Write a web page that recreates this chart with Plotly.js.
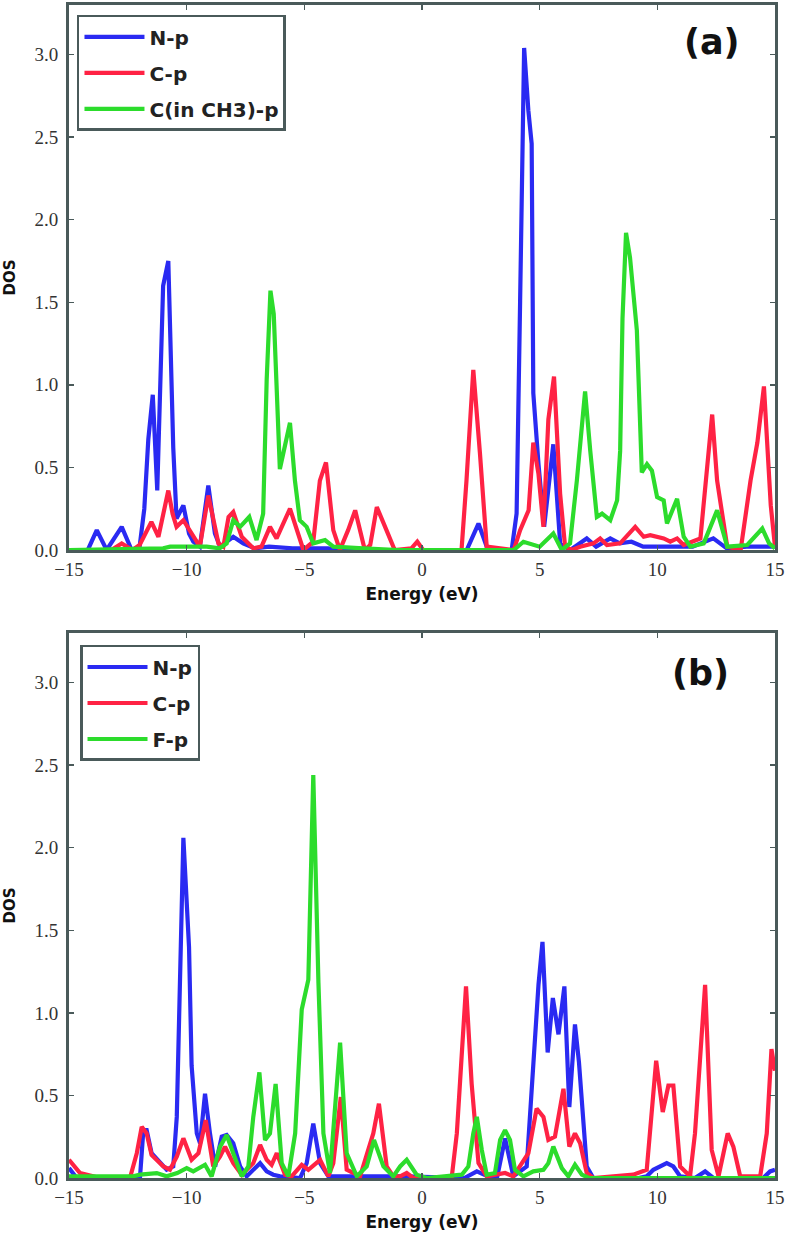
<!DOCTYPE html>
<html>
<head>
<meta charset="utf-8">
<script src="https://cdn.plot.ly/plotly-3.0.1.min.js"></script>
<style>html,body{margin:0;padding:0;background:#fff;}</style>
</head>
<body>
<div id="chart" style="width:787px;height:1240px;"></div>
<script>
// ---------- Panel (a) ----------
const energyA_N = [-15,-14.2,-13.82,-13.4,-12.76,-12.34,-12.0,-11.8,-11.63,-11.44,-11.25,-11.0,-10.78,-10.57,-10.43,-10.14,-9.9,-9.72,-9.44,-9.08,-8.8,-8.58,-8.02,-7.6,-7.1,-6.5,-5.5,-4.0,-3.5,1.9,2.4,2.8,3.81,4.02,4.17,4.34,4.52,4.66,4.73,4.95,5.19,5.58,5.87,6.3,7.0,7.4,8.0,8.4,8.9,9.4,11.5,12.38,12.95,13.8,15];
const dosA_N    = [0,0,0.12,0,0.14,0,0.02,0.25,0.67,0.94,0.36,1.6,1.75,0.62,0.19,0.27,0.1,0.05,0.02,0.39,0.1,0.02,0.08,0.04,0.01,0.02,0.01,0.01,0,0,0.16,0,0,0.22,1.51,3.04,2.66,2.46,0.95,0.52,0.14,0.64,0.04,0,0.07,0.02,0.07,0.04,0.05,0.02,0.02,0.07,0.01,0.02,0.02];

const energyA_C = [-15,-13.2,-12.76,-12.3,-12.0,-11.5,-11.2,-10.78,-10.6,-10.43,-10.14,-9.72,-9.44,-9.08,-8.65,-8.44,-8.22,-8.02,-7.66,-7.17,-6.82,-6.46,-6.18,-5.61,-5.26,-5.04,-4.62,-4.34,-4.08,-3.77,-3.49,-3.14,-2.84,-2.43,-2.2,-1.92,-1.51,-1.16,-0.45,-0.2,0.05,1.68,1.89,2.18,2.46,2.75,3.9,4.17,4.53,4.73,4.95,5.16,5.37,5.61,5.87,6.08,6.36,6.72,7.29,7.57,7.86,8.42,9.06,9.42,9.7,10.27,10.55,10.84,11.12,11.83,12.33,12.54,12.97,13.54,13.96,14.25,14.53,14.82,15];
const dosA_C    = [0,0,0.04,0,0.03,0.17,0.08,0.36,0.22,0.14,0.18,0.08,0.02,0.33,0.04,0.02,0.2,0.23,0.08,0.01,0.02,0.14,0.07,0.25,0.1,0,0.05,0.42,0.53,0.12,0,0.12,0.24,0,0.03,0.26,0.12,0,0.01,0.05,0,0,0.42,1.09,0.59,0.02,0,0.12,0.24,0.65,0.46,0.14,0.79,1.05,0.34,0.02,0,0.02,0.04,0.07,0.03,0.04,0.14,0.08,0.09,0.07,0.05,0.07,0.03,0.07,0.82,0.42,0.02,0,0.42,0.65,0.99,0.27,0.02];

const energyA_G = [-15,-11,-10.7,-10.2,-9.15,-8.6,-8.3,-8.02,-7.73,-7.34,-7.03,-6.75,-6.6,-6.44,-6.3,-6.04,-5.61,-5.4,-5.19,-4.9,-4.62,-4.12,-3.77,-2.5,-1,3.9,4.31,5.0,5.58,5.94,6.29,6.58,6.93,7.15,7.43,7.65,8.0,8.29,8.42,8.52,8.67,8.84,9.13,9.34,9.56,9.77,9.99,10.27,10.41,10.84,11.12,11.4,11.97,12.54,12.97,13.82,14.46,14.75,15];
const dosA_G    = [0,0.01,0.02,0.02,0.02,0.01,0.04,0.18,0.14,0.2,0.06,0.22,1.03,1.57,1.43,0.49,0.77,0.42,0.18,0.14,0.04,0.06,0.02,0.01,0,0,0.05,0.02,0.1,0,0.04,0.42,0.96,0.6,0.2,0.22,0.18,0.3,0.6,1.4,1.92,1.77,1.33,0.47,0.52,0.48,0.32,0.3,0.16,0.31,0.08,0.02,0.04,0.24,0.02,0.03,0.13,0.04,0.01];

// ---------- Panel (b) ----------
const energyB_N = [-15,-14.67,-12.27,-11.98,-11.84,-11.7,-11.49,-11.13,-10.85,-10.57,-10.42,-10.14,-9.9,-9.79,-9.57,-9.43,-9.22,-9.01,-8.79,-8.51,-8.3,-8.02,-7.73,-7.45,-6.88,-6.6,-6.32,-6.03,-5.18,-4.9,-4.62,-4.33,-3.98,-1.5,-0.65,1.8,2.33,2.8,3.2,3.53,3.88,4.45,4.73,4.95,5.12,5.34,5.56,5.8,6.05,6.26,6.5,6.67,7.0,7.28,9.2,9.55,9.83,10.4,10.68,10.97,11.6,12.03,12.38,14.5,14.79,15];
const dosB_N    = [0.06,0,0,0.01,0.29,0.29,0.15,0.09,0.05,0.07,0.37,2.06,1.4,0.68,0.27,0.21,0.51,0.27,0.07,0.25,0.26,0.21,0.07,0.01,0.09,0.04,0.02,0.01,0,0.09,0.33,0.09,0.01,0.01,0.01,0,0.04,0.01,0.01,0.24,0.01,0.07,0.67,1.17,1.43,0.76,1.09,0.87,1.16,0.43,0.93,0.7,0.07,0,0,0.01,0.05,0.09,0.07,0.01,0,0.04,0,0,0.04,0.05];

const energyB_C = [-15,-14.53,-13.97,-13.7,-12.41,-12.12,-11.91,-11.7,-11.49,-11.27,-10.99,-10.71,-10.42,-10.14,-9.79,-9.5,-9.19,-8.87,-8.58,-8.37,-8.02,-7.66,-7.17,-6.88,-6.6,-6.39,-6.17,-5.82,-5.54,-5.11,-4.83,-4.33,-3.98,-3.77,-3.45,-3.2,-2.63,-2.07,-1.83,-1.5,-1.22,-0.93,-0.65,-0.37,1.26,1.48,1.87,2.11,2.4,2.75,3.1,3.53,3.88,4.52,4.87,5.16,5.37,5.65,6.01,6.26,6.5,6.72,7.0,7.28,8.98,9.55,9.95,10.23,10.47,10.68,10.97,11.39,11.6,12.03,12.31,12.6,12.81,12.99,13.23,13.52,14.37,14.65,14.85,15];
const dosB_C    = [0.11,0.03,0.01,0,0,0.15,0.31,0.27,0.14,0.11,0.07,0.05,0.13,0.24,0.11,0.15,0.35,0.07,0.13,0.19,0.09,0.02,0.09,0.2,0.11,0.08,0.15,0.02,0.01,0.08,0.05,0.11,0.01,0.09,0.49,0.05,0.01,0.27,0.45,0.07,0.01,0.01,0.03,0,0,0.27,1.16,0.57,0.09,0.01,0.02,0.03,0.01,0.15,0.42,0.37,0.23,0.25,0.54,0.19,0.27,0.21,0.03,0,0.02,0.05,0.71,0.4,0.56,0.56,0.07,0.01,0.27,1.17,0.17,0.01,0.15,0.27,0.19,0.01,0.01,0.27,0.78,0.65];

const energyB_F = [-15,-12.27,-11.98,-11.27,-10.85,-10.4,-10.0,-9.72,-9.22,-8.94,-8.58,-8.3,-8.02,-7.66,-7.38,-7.17,-6.91,-6.67,-6.46,-6.22,-5.96,-5.68,-5.39,-5.11,-4.83,-4.62,-4.4,-4.19,-3.91,-3.7,-3.48,-3.2,-2.77,-2.35,-2.04,-1.64,-1.22,-0.93,-0.65,-0.23,0.2,1.69,1.97,2.18,2.33,2.54,2.75,3.1,3.32,3.53,3.74,3.95,4.31,4.73,5.16,5.37,5.58,5.94,6.22,6.5,6.79,7.1,15];
const dosB_F    = [0.01,0.01,0.02,0.03,0.01,0.03,0.06,0.04,0.08,0.01,0.19,0.26,0.15,0.01,0.07,0.37,0.64,0.23,0.27,0.57,0.09,0.01,0.27,1.02,1.2,2.44,1.18,0.27,0.03,0.39,0.82,0.15,0.01,0.07,0.23,0.07,0.01,0.07,0.11,0.02,0,0.02,0.07,0.27,0.37,0.17,0.02,0.03,0.23,0.29,0.23,0.05,0.01,0.04,0.05,0.09,0.19,0.06,0.01,0.08,0.02,0,0];

// ---------- labels ----------
const namesA = ["N-p", "C-p", "C(in CH3)-p"];
const namesB = ["N-p", "C-p", "F-p"];
const xTicks = [-15, -10, -5, 0, 5, 10, 15];
const yTicks = [0, 0.5, 1.0, 1.5, 2.0, 2.5, 3.0];

const colors = ["#2a2af2", "#ff2244", "#2cdc2c"];
const frame = "#4a5a5a";
const LW = 4.2;

function tr(x, y, name, color, xa, ya, leg, grp) {
  return {x: x, y: y, name: name, type: "scatter", mode: "lines",
    line: {color: color, width: LW}, xaxis: xa, yaxis: ya,
    legend: leg, legendgroup: grp, hoverinfo: "skip"};
}

const data = [
  tr(energyA_N, dosA_N, namesA[0], colors[0], "x", "y", "legend", "a1"),
  tr(energyA_C, dosA_C, namesA[1], colors[1], "x", "y", "legend", "a2"),
  tr(energyA_G, dosA_G, namesA[2], colors[2], "x", "y", "legend", "a3"),
  tr(energyB_N, dosB_N, namesB[0], colors[0], "x2", "y2", "legend2", "b1"),
  tr(energyB_C, dosB_C, namesB[1], colors[1], "x2", "y2", "legend2", "b2"),
  tr(energyB_F, dosB_F, namesB[2], colors[2], "x2", "y2", "legend2", "b3")
];

const tickFont = {family: "Liberation Serif, serif", size: 19, color: "#333"};
const titleFont = {family: "DejaVu Sans, sans-serif", size: 17, color: "#111", weight: "bold"};

function xax(anchor) {
  return {anchor: anchor, domain: [0, 1], range: [-15, 15], tickvals: xTicks,
    ticks: "inside", ticklen: 5, tickwidth: 1.5, tickcolor: frame,
    showline: true, linecolor: frame, linewidth: 3, mirror: "ticks",
    showgrid: false, zeroline: false, tickfont: tickFont, automargin: false,
    ticklabelstandoff: 0,
    title: {text: "Energy (eV)", font: titleFont, standoff: 10}};
}
function yax(anchor, dom) {
  return {anchor: anchor, domain: dom, range: [0, 3.3], tickvals: yTicks, tickformat: ".1f",
    ticks: "inside", ticklen: 5, tickwidth: 1.5, tickcolor: frame,
    showline: true, linecolor: frame, linewidth: 3, mirror: "ticks",
    showgrid: false, zeroline: false, tickfont: tickFont, automargin: false,
    ticklabelstandoff: 4,
    title: {text: "DOS", font: {family: "DejaVu Sans, sans-serif", size: 15, color: "#111", weight: "bold"}, standoff: 16}};
}

const legFont = {family: "DejaVu Sans, sans-serif", size: 20, color: "#222", weight: "bold"};
function leg(x, y) {
  return {x: x, y: y, xanchor: "left", yanchor: "top", bgcolor: "#fff",
    bordercolor: frame, borderwidth: 2.5, font: legFont, tracegroupgap: 7,
    itemwidth: 60};
}

const layout = {
  width: 787, height: 1240,
  margin: {l: 69, r: 12, t: 5, b: 62},
  paper_bgcolor: "#fff", plot_bgcolor: "#fff",
  xaxis: xax("y"),
  yaxis: yax("x", [0.5354, 1]),
  xaxis2: xax("y2"),
  yaxis2: yax("x2", [0, 0.4646]),
  legend: leg(0.0113, 0.9915),
  legend2: leg(0.0156, 0.4544),
  annotations: [
    {text: "(a)", xref: "x domain", yref: "y domain", x: 0.911, y: 0.932,
     showarrow: false, xanchor: "center", yanchor: "middle",
     font: {family: "DejaVu Sans, sans-serif", size: 35, color: "#111", weight: "bold"}},
    {text: "(b)", xref: "x2 domain", yref: "y2 domain", x: 0.894, y: 0.927,
     showarrow: false, xanchor: "center", yanchor: "middle",
     font: {family: "DejaVu Sans, sans-serif", size: 35, color: "#111", weight: "bold"}}
  ],
  showlegend: true
};

Plotly.newPlot("chart", data, layout, {staticPlot: true, displayModeBar: false});
</script>
</body>
</html>
